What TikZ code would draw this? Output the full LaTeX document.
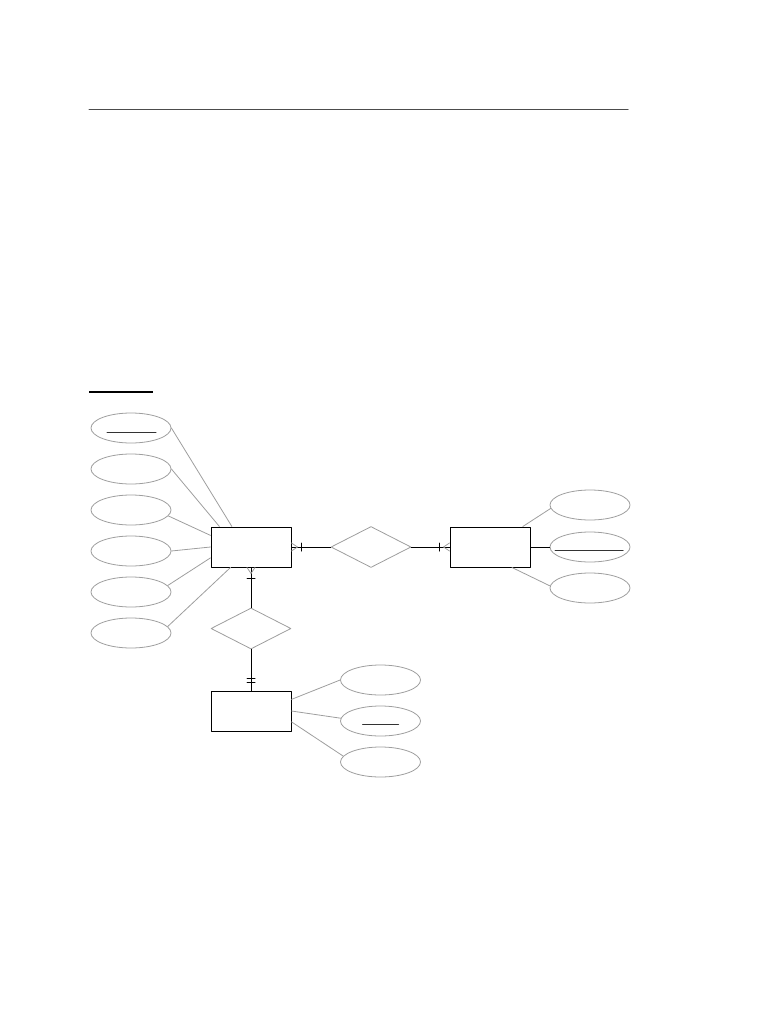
\documentclass[tikz,border=0pt]{standalone}
\usetikzlibrary{shapes.geometric}
\definecolor{attr_gray}{gray}{0.62}

\begin{document}
\begin{tikzpicture}[x=1pt,y=-1pt,line join=round,line cap=round,
	entity/.style={draw,line width=1pt,minimum width=80pt,minimum height=40pt,inner sep=0pt},
	relship/.style={draw=attr_gray,diamond,aspect=2,minimum width=80pt,minimum height=41pt,inner sep=0pt,line width=0.8pt},
	attrib/.style={draw=attr_gray,ellipse,minimum width=80pt,minimum height=30pt,inner sep=0pt,line width=0.8pt},
	attline/.style={attr_gray,line width=0.8pt},
	relline/.style={line width=1pt}]
		\useasboundingbox (0,0) rectangle (768,1024);
		% rules
		\coordinate (r0) at (89,110);
		\coordinate (r1) at (628,110);
		\coordinate (h0) at (89,391.5);
		\coordinate (h1) at (153,391.5);
		\draw[black!70,line width=1pt] (r0) -- (r1);
		\draw[line width=2pt,line cap=butt] (h0) -- (h1);
		% entities and relationships
		\node[entity]  (A)  at (251,547) {};
		\node[relship] (R1) at (371,547) {};
		\node[entity]  (B)  at (490,547) {};
		\node[relship] (R2) at (251,628.5) {};
		\node[entity]  (C)  at (251,711) {};
		% attributes
		\foreach\i/\y in {1/428,2/469,3/510,4/551,5/592,6/633}
			\node[attrib] (a\i) at (131,\y) {};
		\foreach\i/\y in {1/505,2/547,3/588}
			\node[attrib] (b\i) at (590,\y) {};
		\foreach\i/\y in {1/680,2/721,3/762}
			\node[attrib] (c\i) at (380.5,\y) {};
		% attribute lines
		\foreach\i/\p/\q in {1/0/133.5,2/0/147.6,3/-9/164.6,4/0/180,5/10/195.4,6/10/225}
			\draw[attline] (a\i.\p) -- (A.\q);
		\foreach\i/\p/\q in {1/185/32,3/177/-43.5}
			\draw[attline] (b\i.\p) -- (B.\q);
		\draw[relline] (b2.west) -- (B.east);
		\foreach\i/\p/\q in {1/180/16.4,2/176/0,3/171/-15}
			\draw[attline] (c\i.\p) -- (C.\q);
		% key underlines
		\draw[black!80,line width=1pt] ([shift={(-24,4.5)}]a1.center) -- ([shift={(25,4.5)}]a1.center);
		\draw[black!80,line width=1pt] ([shift={(-35,3.5)}]b2.center) -- ([shift={(33,3.5)}]b2.center);
		\draw[black!80,line width=1pt] ([shift={(-18,3)}]c2.center) -- ([shift={(18,3)}]c2.center);
		% relationship lines
		\draw[relline] (A.east) -- (R1.west);
		\draw[relline] (R1.east) -- (B.west);
		\draw[relline] (A.south) -- (R2.north);
		\draw[relline] (R2.south) -- (C.north);
		% one or many
		\draw[relline] ([shift={(10,-4)}]A.east) -- ([shift={(10,4)}]A.east);
		\draw[attline] ([shift={(0,-4)}]A.east) -- ([shift={(6,0)}]A.east) -- ([shift={(0,4)}]A.east);
		\draw[relline] ([shift={(-10,-4)}]B.west) -- ([shift={(-10,4)}]B.west);
		\draw[attline] ([shift={(0,-4)}]B.west) -- ([shift={(-6,0)}]B.west) -- ([shift={(0,4)}]B.west);
		\draw[relline] ([shift={(-4,11)}]A.south) -- ([shift={(4,11)}]A.south);
		\draw[attline] ([shift={(-4,0)}]A.south) -- ([shift={(0,6)}]A.south) -- ([shift={(4,0)}]A.south);
		% exactly one
		\foreach\d in {-12,-8.5}
			\draw[relline] ([shift={(-4,\d)}]C.north) -- ([shift={(4,\d)}]C.north);
\end{tikzpicture}
\end{document}
